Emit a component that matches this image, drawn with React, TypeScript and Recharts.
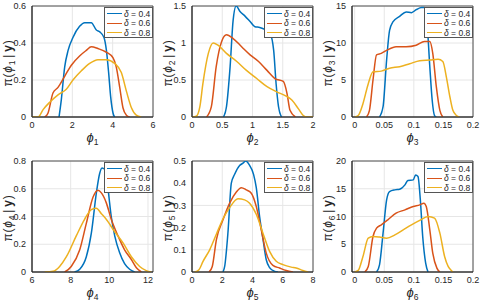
import React from "react";
import { LineChart, Line, XAxis, YAxis, CartesianGrid, Legend, ReferenceArea } from "recharts";

const COLORS = ["#0072BD", "#D95319", "#EDB120"];
const DELTAS = ["0.4", "0.6", "0.8"];
const FONT = "'Liberation Sans', Arial, Helvetica, sans-serif";
const AXIS = "#262626";

// posterior densities, [phi, density]
const phi1_d04 = [[1.34, 0], [1.45, 0.09], [1.62, 0.27], [1.79, 0.36], [2.03, 0.43], [2.36, 0.49], [2.61, 0.51], [2.94, 0.51], [3.19, 0.47], [3.36, 0.46], [3.57, 0.43], [3.69, 0.36], [3.8, 0.24], [3.9, 0.11], [4.02, 0.02], [4.1, 0]];
const phi1_d06 = [[0.63, 0], [0.79, 0.02], [1.04, 0.13], [1.29, 0.16], [1.62, 0.22], [1.95, 0.28], [2.36, 0.33], [2.69, 0.36], [2.94, 0.38], [3.27, 0.37], [3.69, 0.35], [4.02, 0.32], [4.18, 0.27], [4.35, 0.16], [4.51, 0.05], [4.68, 0.01], [4.84, 0]];
const phi1_d08 = [[0, 0], [0.3, 0], [0.55, 0.04], [0.88, 0.08], [1.29, 0.12], [1.7, 0.15], [2.03, 0.2], [2.45, 0.25], [2.86, 0.29], [3.27, 0.31], [3.69, 0.31], [4.1, 0.29], [4.43, 0.24], [4.68, 0.14], [4.93, 0.05], [5.17, 0.01], [5.42, 0]];

const phi2_d04 = [[0.52, 0], [0.57, 0.14], [0.63, 0.68], [0.68, 1.31], [0.73, 1.5], [0.79, 1.43], [0.88, 1.36], [0.96, 1.29], [1.04, 1.22], [1.12, 1.21], [1.21, 1.18], [1.29, 1.13], [1.35, 0.9], [1.39, 0.45], [1.43, 0.14], [1.48, 0]];
const phi2_d06 = [[0.24, 0], [0.32, 0.14], [0.4, 0.68], [0.49, 1.02], [0.57, 1.11], [0.68, 1.06], [0.82, 0.95], [0.96, 0.84], [1.1, 0.75], [1.24, 0.63], [1.37, 0.52], [1.51, 0.48], [1.57, 0.32], [1.62, 0.09], [1.71, 0]];
const phi2_d08 = [[0, 0], [0.07, 0.01], [0.13, 0.14], [0.18, 0.45], [0.27, 0.86], [0.35, 1.0], [0.43, 0.97], [0.57, 0.86], [0.74, 0.75], [0.9, 0.63], [1.07, 0.52], [1.24, 0.41], [1.4, 0.34], [1.54, 0.29], [1.65, 0.23], [1.76, 0.11], [1.84, 0.02], [1.9, 0], [2, 0]];

const phi3_d04 = [[0.042, 0], [0.048, 1.4], [0.054, 7.7], [0.059, 11.7], [0.065, 12.9], [0.076, 13.6], [0.087, 14.2], [0.096, 14.1], [0.104, 14.5], [0.113, 14.8], [0.118, 14.8], [0.122, 13.1], [0.127, 6.8], [0.131, 2.3], [0.135, 0.2], [0.138, 0]];
const phi3_d06 = [[0.02, 0], [0.025, 0.9], [0.031, 5.0], [0.037, 8.4], [0.045, 8.6], [0.054, 9.0], [0.07, 9.5], [0.087, 9.5], [0.104, 9.7], [0.118, 10.2], [0.127, 10.2], [0.132, 8.6], [0.138, 4.1], [0.144, 0.9], [0.149, 0]];
const phi3_d08 = [[0, 0], [0.006, 0.2], [0.014, 1.8], [0.023, 4.5], [0.031, 6.1], [0.045, 6.2], [0.059, 6.6], [0.076, 6.8], [0.093, 7.2], [0.11, 7.6], [0.127, 7.7], [0.141, 7.8], [0.149, 7.5], [0.155, 5.4], [0.161, 2.7], [0.166, 0.9], [0.172, 0.2], [0.177, 0]];

const phi4_d04 = [[8.2, 0], [8.47, 0.02], [8.81, 0.11], [9.07, 0.28], [9.33, 0.57], [9.5, 0.71], [9.62, 0.75], [9.76, 0.74], [9.93, 0.6], [10.1, 0.4], [10.28, 0.26], [10.53, 0.14], [10.79, 0.06], [11.05, 0.02], [11.31, 0]];
const phi4_d06 = [[7.69, 0], [8.03, 0.04], [8.47, 0.16], [8.81, 0.35], [9.16, 0.54], [9.41, 0.59], [9.59, 0.57], [9.84, 0.5], [10.1, 0.38], [10.45, 0.26], [10.79, 0.16], [11.14, 0.09], [11.4, 0.03], [11.66, 0]];
const phi4_d08 = [[6.66, 0], [7.09, 0.005], [7.43, 0.04], [7.78, 0.11], [8.29, 0.26], [8.72, 0.38], [9.07, 0.45], [9.33, 0.46], [9.59, 0.42], [9.84, 0.38], [10.28, 0.29], [10.71, 0.21], [11.14, 0.11], [11.57, 0.04], [11.91, 0.01], [12.17, 0]];

const phi5_d04 = [[2.05, 0], [2.16, 0.025], [2.38, 0.18], [2.6, 0.4], [2.82, 0.44], [3.15, 0.48], [3.37, 0.49], [3.55, 0.5], [3.81, 0.48], [4.07, 0.44], [4.25, 0.38], [4.47, 0.25], [4.69, 0.15], [4.91, 0.055], [5.13, 0.02], [5.46, 0.003], [5.68, 0]];
const phi5_d06 = [[1.12, 0], [1.34, 0.025], [1.61, 0.145], [2.05, 0.235], [2.49, 0.31], [2.93, 0.36], [3.26, 0.38], [3.59, 0.37], [3.92, 0.355], [4.25, 0.295], [4.58, 0.19], [4.91, 0.085], [5.35, 0.03], [5.79, 0.018], [6.23, 0.007], [6.67, 0]];
const phi5_d08 = [[0.18, 0], [0.46, 0.01], [0.73, 0.048], [1.17, 0.1], [1.61, 0.17], [2.05, 0.24], [2.49, 0.29], [3.04, 0.33], [3.48, 0.325], [3.81, 0.31], [4.25, 0.26], [4.69, 0.175], [5.13, 0.093], [5.57, 0.048], [6.01, 0.033], [6.56, 0.022], [6.89, 0.018], [7.33, 0.007], [7.67, 0]];

const phi6_d04 = [[0.037, 0], [0.042, 1.3], [0.048, 7.0], [0.054, 13.0], [0.059, 14.5], [0.068, 14.8], [0.076, 14.9], [0.085, 15.7], [0.09, 16.5], [0.099, 16.6], [0.103, 17.5], [0.107, 17.2], [0.111, 13.0], [0.115, 6.4], [0.12, 1.6], [0.124, 0]];
const phi6_d06 = [[0.017, 0], [0.023, 1.0], [0.031, 6.4], [0.037, 7.9], [0.045, 8.5], [0.056, 9.4], [0.07, 10.6], [0.085, 11.2], [0.099, 11.8], [0.11, 12.1], [0.117, 12.4], [0.121, 11.8], [0.127, 7.6], [0.132, 3.4], [0.139, 0.7], [0.144, 0]];
const phi6_d08 = [[0, 0], [0.006, 0.3], [0.014, 2.8], [0.023, 6.1], [0.031, 6.4], [0.042, 6.3], [0.054, 6.1], [0.068, 6.7], [0.082, 7.6], [0.096, 8.5], [0.11, 9.3], [0.124, 10.0], [0.135, 9.7], [0.144, 7.0], [0.152, 2.8], [0.158, 1.0], [0.163, 0.3], [0.166, 0]];

// axis limits and ticks per panel
const xTicks = [[0, 2, 4, 6], [0, 0.5, 1, 1.5, 2], [0, 0.05, 0.1, 0.15, 0.2], [6, 8, 10, 12], [0, 2, 4, 6, 8], [0, 0.05, 0.1, 0.15, 0.2]];
const yTicks = [[0, 0.2, 0.4, 0.6], [0, 0.5, 1, 1.5], [0, 5, 10, 15], [0, 0.2, 0.4, 0.6, 0.8], [0, 0.1, 0.2, 0.3, 0.4, 0.5], [0, 5, 10, 15, 20]];
const xLims = [[0, 6], [0, 2], [-0.0045, 0.2], [6, 12.26], [0, 8], [-0.0045, 0.2]];

const panels = [
  [phi1_d04, phi1_d06, phi1_d08],
  [phi2_d04, phi2_d06, phi2_d08],
  [phi3_d04, phi3_d06, phi3_d08],
  [phi4_d04, phi4_d06, phi4_d08],
  [phi5_d04, phi5_d06, phi5_d08],
  [phi6_d04, phi6_d06, phi6_d08],
];

const toPoints = (arr: number[][]) => arr.map(([x, y]) => ({ x, y }));

const W = 160;
const H = 150;
const M = { top: 6, right: 7, bottom: 0, left: 0 };
const Y_W = 32;
const X_H = 33;

function LegendBox() {
  return (
    <div
      style={{
        width: 47,
        height: 28,
        border: "1px solid #555",
        background: "#fff",
        fontFamily: FONT,
        fontSize: 8.5,
        color: AXIS,
        paddingTop: 1,
      }}
    >
      {DELTAS.map((d, i) => (
        <div key={d} style={{ display: "flex", alignItems: "center", height: 9.5, whiteSpace: "nowrap" }}>
          <span style={{ display: "inline-block", width: 15, marginLeft: 2, marginRight: 2, borderTop: `1.5px solid ${COLORS[i]}` }} />
          <span>
            <i>δ</i> = {d}
          </span>
        </div>
      ))}
    </div>
  );
}

const Sub = ({ n }: { n: number }) => (
  <span style={{ fontSize: 8.5, position: "relative", top: 2.5 }}>{n}</span>
);

function Panel({ k }: { k: number }) {
  const col = k % 3;
  const row = Math.floor(k / 3);
  const xd = xLims[k];
  const yt = yTicks[k];
  const yd = [yt[0], yt[yt.length - 1]];
  const n = k + 1;
  const tick = { fontSize: 9, fill: AXIS, fontFamily: FONT };
  return (
    <div style={{ position: "absolute", left: col * 160, top: row * 155, width: W, height: H }}>
      <LineChart width={W} height={H} margin={M}>
        <CartesianGrid stroke="#e6e6e6" strokeWidth={1} />
        <XAxis
          type="number"
          dataKey="x"
          domain={xd}
          ticks={xTicks[k]}
          allowDataOverflow
          height={X_H}
          stroke={AXIS}
          tickLine={false}
          tickSize={0}
          tickMargin={5}
          tick={tick}
        />
        <YAxis
          type="number"
          domain={yd}
          ticks={yt}
          allowDataOverflow
          width={Y_W}
          stroke={AXIS}
          tickLine={false}
          tickSize={0}
          tickMargin={6}
          tick={tick}
        />
        <ReferenceArea x1={xd[0]} x2={xd[1]} y1={yd[0]} y2={yd[1]} fill="none" stroke={AXIS} strokeWidth={0.8} />
        {panels[k].map((c, i) => (
          <Line
            key={i}
            data={toPoints(c)}
            dataKey="y"
            type="monotone"
            stroke={COLORS[i]}
            strokeWidth={1.5}
            dot={false}
            isAnimationActive={false}
          />
        ))}
        <Legend
          layout="vertical"
          align="center"
          verticalAlign="middle"
          content={() => <LegendBox />}
          wrapperStyle={{ top: 7, left: 104, width: 49 }}
        />
      </LineChart>
      <div
        style={{
          position: "absolute",
          left: Y_W + 60.5 - 20,
          width: 40,
          top: 131,
          height: 14,
          lineHeight: "14px",
          textAlign: "center",
          fontFamily: FONT,
          fontSize: 13,
          color: AXIS,
        }}
      >
        <i>ϕ</i>
        <Sub n={n} />
      </div>
      <div
        style={{
          position: "absolute",
          left: 8 - 40,
          top: 63 - 7,
          width: 80,
          height: 14,
          lineHeight: "14px",
          textAlign: "center",
          transform: "rotate(-90deg)",
          fontFamily: FONT,
          fontSize: 12,
          color: AXIS,
          whiteSpace: "nowrap",
          letterSpacing: 0.8,
        }}
      >
        π(<i>ϕ</i>
        <Sub n={n} />
        <span style={{ margin: "0 2px" }}>|</span>
        <b>y</b>)
      </div>
    </div>
  );
}

export default function App() {
  return (
    <div style={{ position: "absolute", left: 0, top: 0, width: 483, height: 301, background: "#fff", overflow: "hidden" }}>
      {[0, 1, 2, 3, 4, 5].map((k) => (
        <Panel key={k} k={k} />
      ))}
    </div>
  );
}
